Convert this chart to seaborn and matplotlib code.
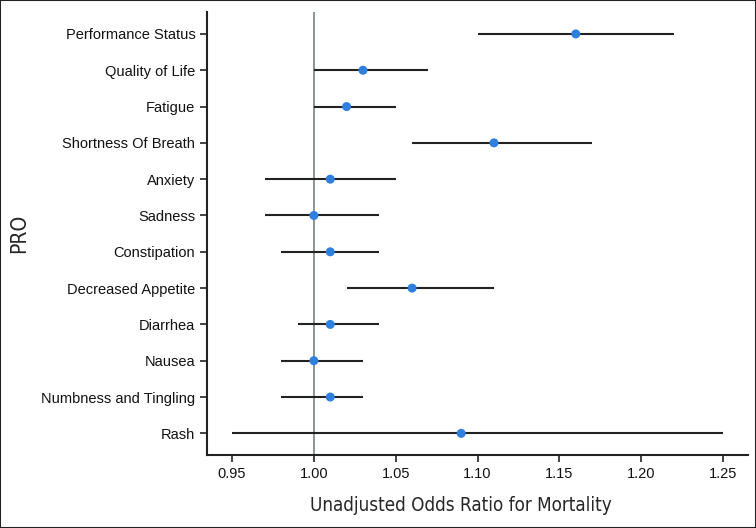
import numpy as np
import pandas as pd
import seaborn as sns
import matplotlib.pyplot as plt

# dados
pros = ["Performance Status", "Quality of Life", "Fatigue", "Shortness Of Breath",
        "Anxiety", "Sadness", "Constipation", "Decreased Appetite", "Diarrhea",
        "Nausea", "Numbness and Tingling", "Rash"]
odds = [1.16, 1.03, 1.02, 1.11, 1.01, 1.00, 1.01, 1.06, 1.01, 1.00, 1.01, 1.09]
lower = [1.10, 1.00, 1.00, 1.06, 0.97, 0.97, 0.98, 1.02, 0.99, 0.98, 0.98, 0.95]
upper = [1.22, 1.07, 1.05, 1.17, 1.05, 1.04, 1.04, 1.11, 1.04, 1.03, 1.03, 1.25]
xticks = [0.95, 1.00, 1.05, 1.10, 1.15, 1.20, 1.25]

data = pd.DataFrame({"PRO": pros, "OR": odds, "lo": lower, "hi": upper})

sns.set_style("ticks")
plt.rcParams["font.family"] = ["Liberation Sans", "DejaVu Sans"]

fig = plt.figure(figsize=(7.56, 5.28), dpi=100)
ax = fig.add_axes([0.274, 0.138, 0.715, 0.839])

# linha de referência em 1
ax.axvline(1.0, color="#8a9496", lw=1.4, zorder=1)

# intervalos de confiança
ypos = np.arange(len(pros))
ax.hlines(ypos, data["lo"], data["hi"], color="#222222", lw=1.5, zorder=2)

# pontos
sns.scatterplot(x="OR", y="PRO", data=data, ax=ax, color="#2f7fdf", s=42,
                edgecolor="none", zorder=3)

ax.set_xlim(0.9348, 1.265)
ax.set_ylim(len(pros) - 0.4, -0.6)
ax.set_xticks(xticks)
ax.set_xticklabels([f"{t:.2f}" for t in xticks])
ax.tick_params(axis="both", labelsize=10.5, length=5, width=1.2, colors="#222222",
               labelcolor="#111111")
for s in ["left", "bottom"]:
    ax.spines[s].set_linewidth(1.5)
    ax.spines[s].set_color("#222222")
sns.despine(ax=ax)

ax.set_xlabel("Unadjusted Odds Ratio for Mortality", fontsize=13.5,
              family="DejaVu Sans", fontstretch="condensed")
ax.xaxis.set_label_coords(0.47, -0.093)
ax.set_ylabel("PRO", fontsize=15,
              family="DejaVu Sans", fontstretch="condensed", labelpad=9)

# moldura fina da figura
fig.patches.append(plt.Rectangle((0, 0), 1, 1, transform=fig.transFigure,
                                 fill=False, edgecolor="#222222", lw=1.5))

plt.savefig("out.png", dpi=100)
